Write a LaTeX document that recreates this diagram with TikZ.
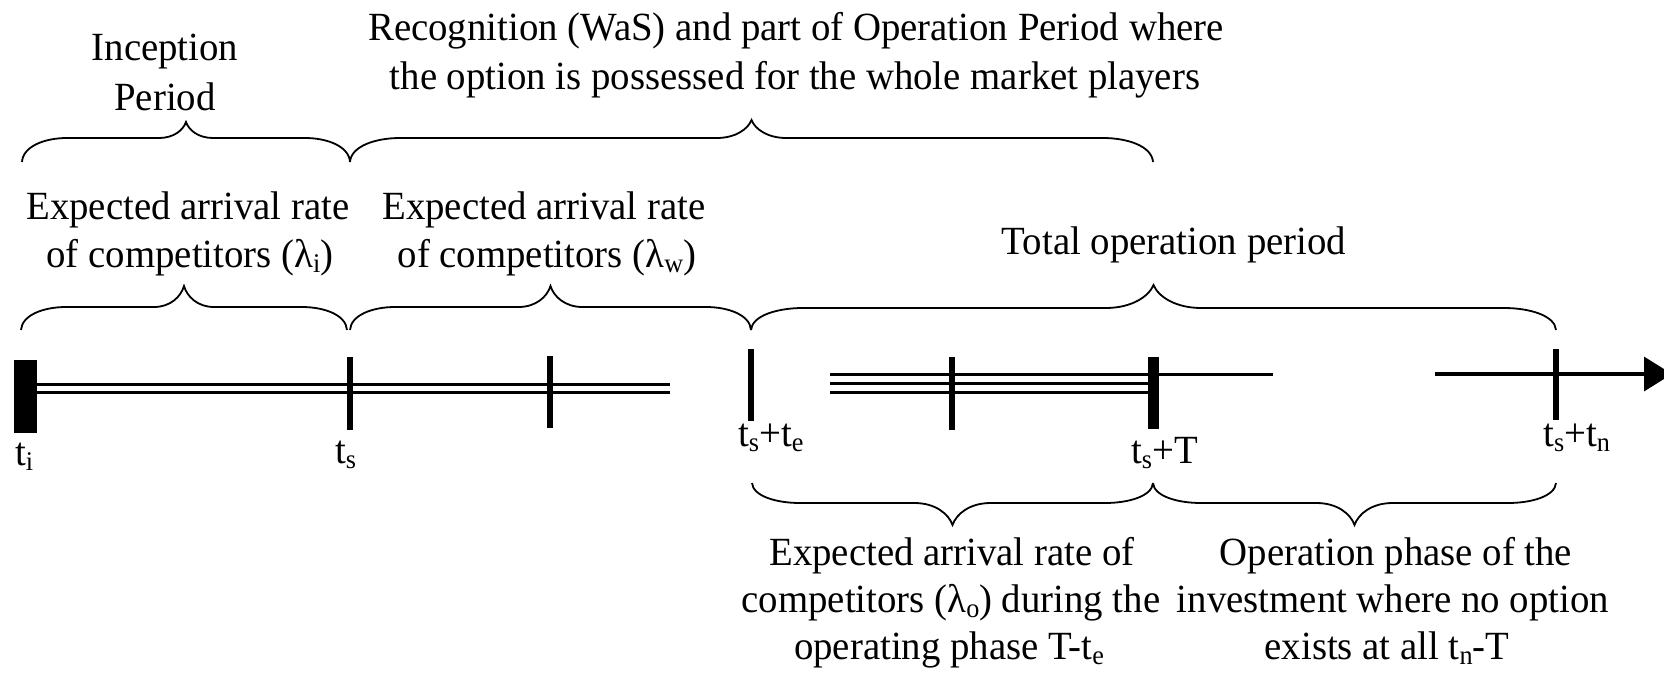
\documentclass[tikz,border=0pt]{standalone}
\usepackage{fontspec}
\setmainfont[FakeStretch=0.97]{Liberation Serif}
\usetikzlibrary{arrows.meta}

% lowered, smaller index as used in the time labels
\newcommand{\lowsub}[1]{\raisebox{-0.13em}{\fontsize{27}{27}\selectfont #1}}

% curly brace: name, x1, x2, y of ends, y of flat part, y of tip, end extent, tip extent
\newcommand{\timebrace}[8]{%
  \pgfmathsetmacro\bxm{(#2+#3)/2}%
  \pgfmathsetmacro\bya{#5+0.35*(#4-#5)}%
  \pgfmathsetmacro\byb{#5+0.5*(#6-#5)}%
  \draw[bracestyle] (#2,#4) .. controls (#2+0.02*#7,\bya) and (#2+0.5*#7,#5) .. (#2+#7,#5)
    -- (\bxm-#8,#5) .. controls (\bxm-0.45*#8,#5) and (\bxm-0.1*#8,\byb) .. (\bxm,#6) coordinate (#1)
    .. controls (\bxm+0.1*#8,\byb) and (\bxm+0.45*#8,#5) .. (\bxm+#8,#5)
    -- (#3-#7,#5) .. controls (#3-0.5*#7,#5) and (#3-0.02*#7,\bya) .. (#3,#4);%
}

\begin{document}
\begin{tikzpicture}[x=1pt,y=-1pt,
  bracestyle/.style={line width=1.8pt},
  lbl/.style={anchor=base, inner sep=0pt, font=\fontsize{40}{48}\selectfont},
  tlbl/.style={lbl, anchor=base west},
  tick/.style={line width=6pt},
  rail/.style={line width=3pt}]
\useasboundingbox (0,0) rectangle (1664,673);

% rails of the time axis
\draw[rail] (37,384) -- (670,384);
\draw[rail] (37,392) -- (670,392);
\draw[rail] (830,374) -- (1273,374);
\draw[rail] (830,383) -- (1148,383);
\draw[rail] (830,392) -- (1148,392);
\draw[rail, line width=3.5pt, -{Triangle[length=28pt,width=34pt]}] (1435,374) coordinate (axend0) -- (1672,374) coordinate (axend);

% tick marks
\fill (14,360) rectangle (37,433) coordinate (kti);
\draw[tick] (350,357) coordinate (kts) -- (350,430);
\draw[tick] (550,356) coordinate (kmid1) -- (550,428);
\draw[tick] (751,349) coordinate (kte) -- (751,421);
\draw[tick] (952,357) coordinate (kmid2) -- (952,430);
\fill (1148,357) rectangle (1159,429) coordinate (kT);
\draw[tick] (1556,349) coordinate (ktn) -- (1556,420);

% time labels
\node[tlbl] (lti) at (15,465) {t\lowsub{i}};
\node[tlbl] (lts) at (335,463) {t\lowsub{s}};
\node[tlbl] (lte) at (738,446) {t\lowsub{s}+t\lowsub{e}};
\node[tlbl] (lT) at (1131,463) {t\lowsub{s}+T};
\node[tlbl] (ltn) at (1543,446) {t\lowsub{s}+t\lowsub{n}};

% braces
\timebrace{b1}{22}{350}{162}{138}{122}{45}{27}
\timebrace{b2}{350}{1153}{162}{138}{120}{50}{35}
\timebrace{b3}{21}{347}{330}{307}{286}{45}{30}
\timebrace{b4}{350}{751}{330}{307}{286}{45}{32}
\timebrace{b5}{751}{1556}{330}{308}{285}{52}{48}
\timebrace{b6}{752}{1153}{483}{503}{525}{48}{38}
\timebrace{b7}{1153}{1556}{483}{503}{525}{48}{38}

% period descriptions
\node[lbl] (inc1) at (165,60) {Inception};
\node[lbl] (inc2) at (165,110) {Period};
\node[lbl] (rec1) at (796,40) {Recognition (WaS) and part of Operation Period where};
\node[lbl] (rec2) at (795,89) {the option is possessed for the whole market players};
\node[lbl] (li1) at (188,219) {Expected arrival rate};
\node[lbl] (li2) at (190,267) {of competitors (λ\lowsub{i})};
\node[lbl] (lw1) at (544,219) {Expected arrival rate};
\node[lbl] (lw2) at (547,267) {of competitors (λ\lowsub{w})};
\node[lbl] (tot) at (1174,254) {Total operation period};
\node[lbl] (lo1) at (952,565) {Expected arrival rate of};
\node[lbl] (lo2) at (951,612) {competitors (λ\lowsub{o}) during the};
\node[lbl] (lo3) at (949,659) {operating phase T-t\lowsub{e}};
\node[lbl] (np1) at (1396,565) {Operation phase of the};
\node[lbl] (np2) at (1393,612) {investment where no option};
\node[lbl] (np3) at (1387,659) {exists at all t\lowsub{n}-T};
\end{tikzpicture}
\end{document}
